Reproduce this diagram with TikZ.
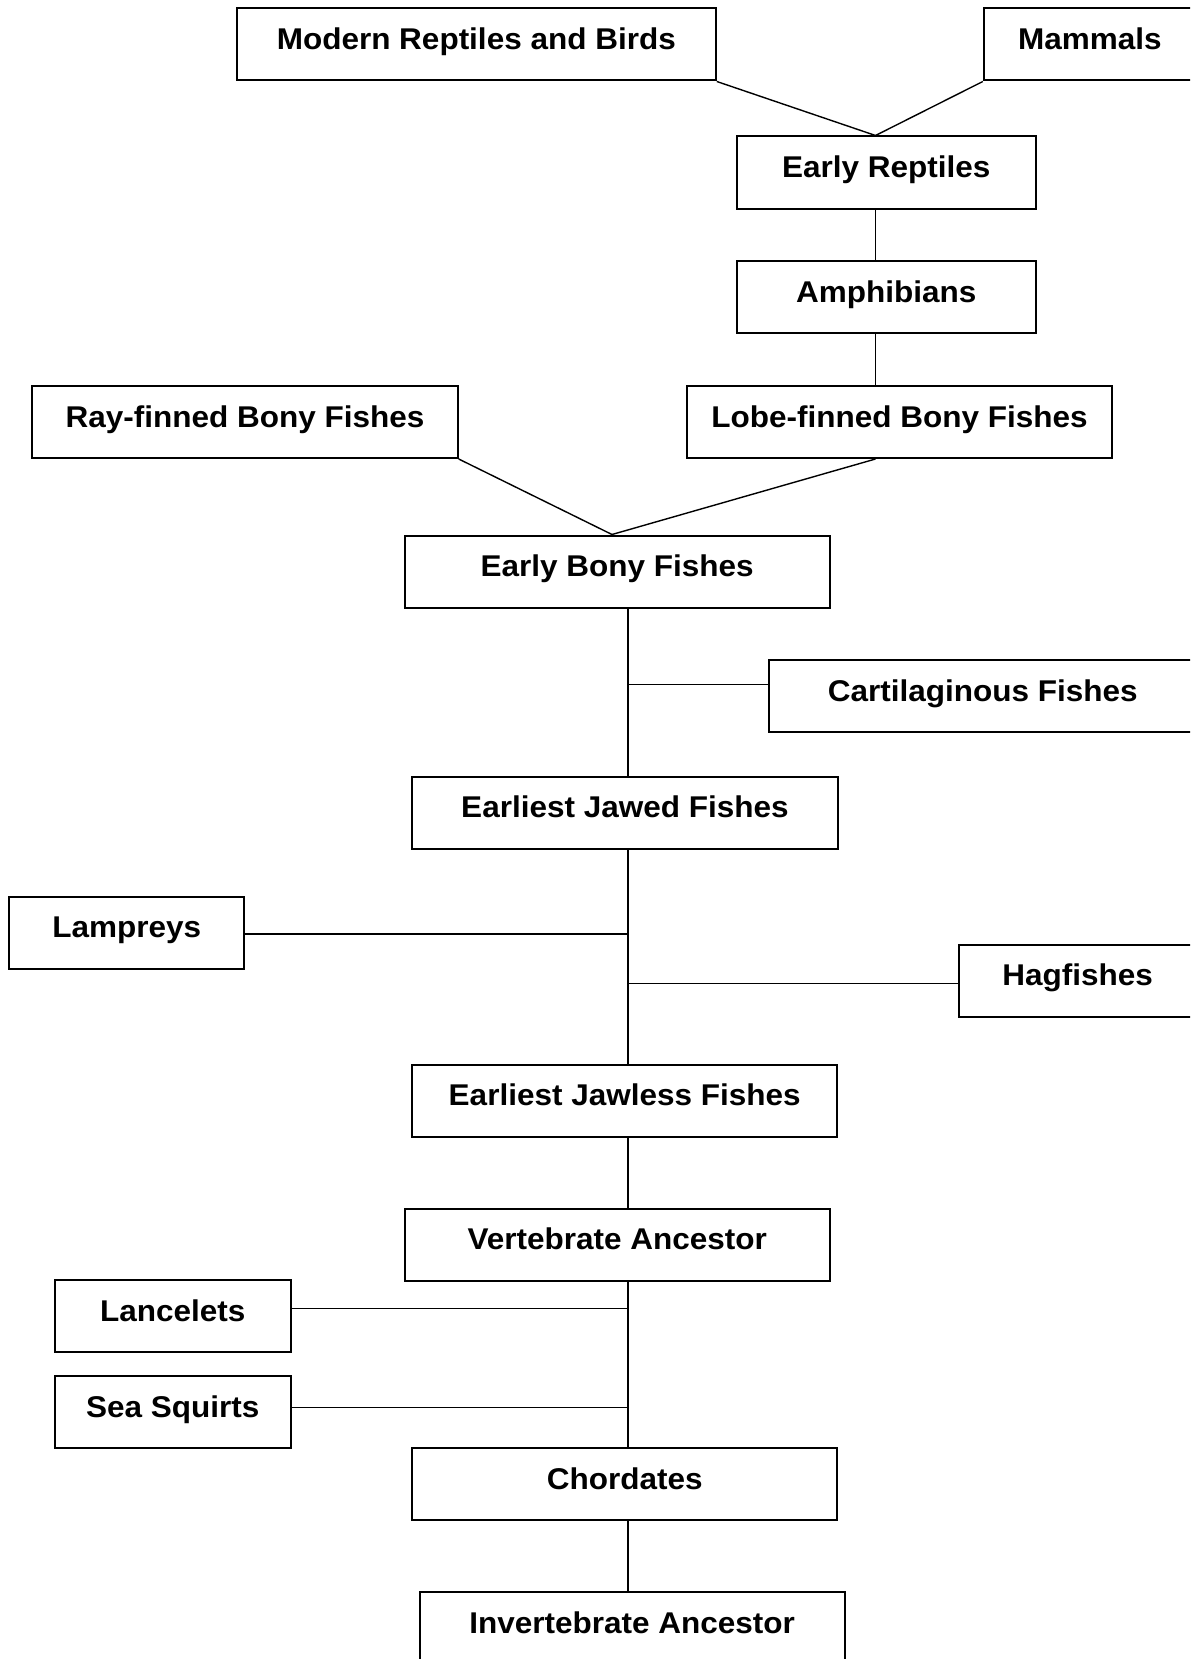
\documentclass[tikz,border=0pt]{standalone}
\usepackage{fontspec}
\setmainfont{Liberation Sans}[FakeStretch=1.05]
\begin{document}
\begin{tikzpicture}[x=0.5pt,y=-0.5pt,
  taxon/.style={draw, line width=1pt, inner sep=0pt, anchor=north west,
    text height=20.5pt, text depth=15.5pt, font=\fontsize{15}{18}\selectfont\bfseries},
  link/.style={line width=0.7pt}]
\useasboundingbox (0,0) rectangle (1190,1659);
\clip (0,0) rectangle (1190,1659);
% nodes
\node[taxon, minimum width=239.5pt] (mrb) at (235.8,7.5) {Modern Reptiles and Birds};
\node[taxon, minimum width=106pt] (mam) at (982.8,7.5) {Mammals};
\node[taxon, minimum width=149.5pt] (er) at (735.8,135.5) {Early Reptiles};
\node[taxon, minimum width=149.5pt] (amp) at (735.8,260.2) {Amphibians};
\node[taxon, minimum width=212.75pt] (ray) at (31.2,385) {Ray-finned Bony Fishes};
\node[taxon, minimum width=212.25pt] (lobe) at (686.2,385) {Lobe-finned Bony Fishes};
\node[taxon, minimum width=212.5pt] (ebf) at (403.7,534.5) {Early Bony Fishes};
\node[taxon, minimum width=213.5pt] (cart) at (768.2,659) {Cartilaginous Fishes};
\node[taxon, minimum width=212.75pt] (ejf) at (411.2,775.5) {Earliest Jawed Fishes};
\node[taxon, minimum width=117.5pt] (lamp) at (8.2,895.5) {Lampreys};
\node[taxon, minimum width=118.5pt] (hag) at (958.2,943.5) {Hagfishes};
\node[taxon, minimum width=212.5pt] (ejl) at (411.2,1063.5) {Earliest Jawless Fishes};
\node[taxon, minimum width=212.5pt] (va) at (403.7,1207.5) {Vertebrate Ancestor};
\node[taxon, minimum width=118pt] (lanc) at (53.7,1279) {Lancelets};
\node[taxon, minimum width=118pt] (sea) at (53.7,1375.2) {Sea Squirts};
\node[taxon, minimum width=212.5pt] (chord) at (411.2,1447.2) {Chordates};
\node[taxon, minimum width=212.5pt] (inv) at (418.7,1591.2) {Invertebrate Ancestor};
% reference coordinates
\coordinate (top) at (875.5,0);
\coordinate (mid) at (612,0);
\coordinate (sp) at (628,0);
\coordinate (cj) at (628,684.3);
\coordinate (lj) at (628,934);
\coordinate (hj) at (628,983.7);
\coordinate (lcj) at (628,1308.3);
\coordinate (ssj) at (628,1407.7);
% connectors
\draw[link] (mrb.south east) -- (er.north -| top);
\draw[link] (mam.south west) -- (er.north -| top);
\draw[link] (er.south -| top) -- (amp.north -| top);
\draw[link] (amp.south -| top) -- (lobe.north -| top);
\draw[link] (lobe.south -| top) -- (ebf.north -| mid);
\draw[link] (ray.south east) -- (ebf.north -| mid);
\draw[link] (ebf.south -| sp) -- (ejf.north -| sp);
\draw[link] (ejf.south -| sp) -- (ejl.north -| sp);
\draw[link] (ejl.south -| sp) -- (va.north -| sp);
\draw[link] (va.south -| sp) -- (chord.north -| sp);
\draw[link] (chord.south -| sp) -- (inv.north -| sp);
\draw[link] (cart.west |- cj) -- (cj);
\draw[link] (lamp.east |- lj) -- (lj);
\draw[link] (hag.west |- hj) -- (hj);
\draw[link] (lanc.east |- lcj) -- (lcj);
\draw[link] (sea.east |- ssj) -- (ssj);
\end{tikzpicture}
\end{document}
